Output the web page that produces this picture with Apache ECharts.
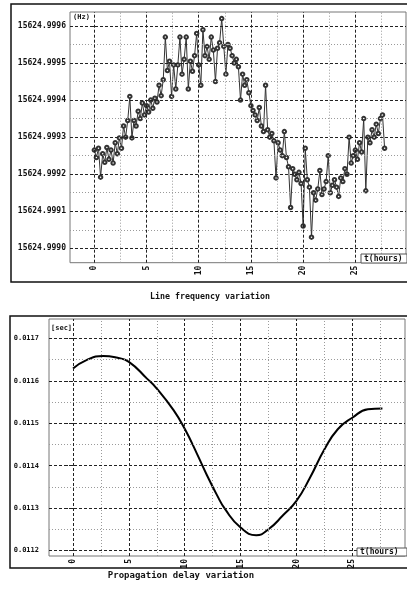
<!DOCTYPE html>
<html><head><meta charset="utf-8">
<script src="https://cdn.jsdelivr.net/npm/echarts@6/dist/echarts.min.js"></script>
<style>html,body{margin:0;padding:0;background:#fff}#c{width:407px;height:591px}</style>
</head><body><div id="c"></div>
<script>
// ---------- data ----------
const freqHours = [
 0,0.2,0.4,0.6,0.8, 1,1.2,1.4,1.6,1.8, 2,2.2,2.4,2.6,2.8, 3,3.2,3.4,3.6,3.8,
 4,4.2,4.4,4.6,4.8, 5,5.2,5.4,5.6,5.8, 6,6.2,6.4,6.6,6.8, 7,7.2,7.4,7.6,7.8,
 8,8.2,8.4,8.6,8.8, 9,9.2,9.4,9.6,9.8, 10,10.2,10.4,10.6,10.8, 11,11.2,11.4,11.6,11.8,
 12,12.2,12.4,12.6,12.8, 13,13.2,13.4,13.6,13.8, 14,14.2,14.4,14.6,14.8, 15,15.2,15.4,15.6,15.8,
 16,16.2,16.4,16.6,16.8, 17,17.2,17.4,17.6,17.8, 18,18.2,18.4,18.6,18.8, 19,19.2,19.4,19.6,19.8,
 20,20.2,20.4,20.6,20.8, 21,21.2,21.4,21.6,21.8, 22,22.2,22.4,22.6,22.8, 23,23.2,23.4,23.6,23.8,
 24,24.2,24.4,24.6,24.8, 25,25.2,25.4,25.6,25.8, 26,26.2,26.4,26.6,26.8, 27,27.2,27.4,27.6,27.8
];
const freqValues = [
 15624.999265,15624.999245,15624.999270,15624.999192,15624.999255,
 15624.999232,15624.999272,15624.999240,15624.999265,15624.999230,
 15624.999285,15624.999255,15624.999298,15624.999270,15624.999330,
 15624.999300,15624.999345,15624.999410,15624.999298,15624.999345,
 15624.999330,15624.999370,15624.999350,15624.999392,15624.999360,
 15624.999385,15624.999368,15624.999400,15624.999378,15624.999405,
 15624.999395,15624.999440,15624.999412,15624.999455,15624.999570,
 15624.999480,15624.999505,15624.999410,15624.999495,15624.999430,
 15624.999495,15624.999570,15624.999470,15624.999510,15624.999570,
 15624.999430,15624.999505,15624.999478,15624.999520,15624.999580,
 15624.999495,15624.999440,15624.999590,15624.999520,15624.999545,
 15624.999510,15624.999570,15624.999535,15624.999450,15624.999540,
 15624.999555,15624.999620,15624.999545,15624.999470,15624.999550,
 15624.999540,15624.999520,15624.999500,15624.999510,15624.999490,
 15624.999400,15624.999470,15624.999440,15624.999455,15624.999420,
 15624.999385,15624.999372,15624.999360,15624.999345,15624.999380,
 15624.999330,15624.999315,15624.999440,15624.999320,15624.999300,
 15624.999310,15624.999290,15624.999190,15624.999285,15624.999265,
 15624.999250,15624.999315,15624.999245,15624.999220,15624.999110,
 15624.999215,15624.999200,15624.999185,15624.999205,15624.999175,
 15624.999060,15624.999270,15624.999185,15624.999165,15624.999030,
 15624.999150,15624.999130,15624.999160,15624.999210,15624.999145,
 15624.999160,15624.999180,15624.999250,15624.999150,15624.999170,
 15624.999185,15624.999165,15624.999140,15624.999190,15624.999180,
 15624.999215,15624.999200,15624.999300,15624.999230,15624.999250,
 15624.999265,15624.999240,15624.999285,15624.999260,15624.999350,
 15624.999155,15624.999300,15624.999285,15624.999320,15624.999300,
 15624.999335,15624.999310,15624.999350,15624.999360,15624.999270
];
const delayHours = [0,1.2,2.7,3.9,5,6.6,7.5,9,10,11.1,12,12.9,13.6,15,16.4,17.5,18.8,20,21.2,22.5,23.7,25,26.4,27.7];
const delayValues = [0.011629,0.011649,0.011659,0.011655,0.011645,0.011606,0.011582,0.011531,0.011487,0.011428,0.011377,0.011330,0.011298,0.011254,0.011236,0.011250,0.011283,0.011317,0.011371,0.011438,0.011486,0.011513,0.011533,0.011535];

const xTickValues = [0,5,10,15,20,25];
const xMinorValues = [2.5,7.5,12.5,17.5,22.5,27.5];
const freqTickValues = [15624.9990,15624.9991,15624.9992,15624.9993,15624.9994,15624.9995,15624.9996];
const freqMinorValues = [15624.99905,15624.99915,15624.99925,15624.99935,15624.99945,15624.99955];
const delayTickValues = [0.0112,0.0113,0.0114,0.0115,0.0116,0.0117];
const delayMinorValues = [0.01125,0.01135,0.01145,0.01155,0.01165];

const titles = ['Line frequency variation','Propagation delay variation'];

// ---------- chart ----------
const MONO = 'DejaVu Sans Mono';
const majorStyle = {color:'#222', width:1, type:[3,2]};
const minorStyle = {color:'#9a9a9a', width:1, type:[1,2]};
const X1 = [-2.33, 29.85], X2 = [-2.15, 29.72];

function gridLines(xr, xs, xm, ys, ym){
  const d = [];
  xm.forEach(v=>d.push({xAxis:v, lineStyle:minorStyle}));
  ym.forEach(v=>d.push([{coord:[xr[0],v], lineStyle:minorStyle},{coord:[xr[1],v], lineStyle:minorStyle}]));
  xs.forEach(v=>d.push({xAxis:v, lineStyle:majorStyle}));
  ys.forEach(v=>d.push([{coord:[xr[0],v], lineStyle:majorStyle},{coord:[xr[1],v], lineStyle:majorStyle}]));
  return d;
}

const chart = echarts.init(document.getElementById('c'), null, {renderer:'canvas'});
const xAxisBase = (gi,r)=>({
  type:'value', gridIndex:gi, min:r[0], max:r[1],
  axisLine:{show:false}, splitLine:{show:false},
  axisTick:{show:false},
  axisLabel:{show:true, customValues:xTickValues, rotate:90, margin:3,
    fontFamily:MONO, fontSize:8, fontWeight:'bold', color:'#111', formatter:v=>String(v)}
});
chart.setOption({
  animation:false,
  backgroundColor:'#fff',
  grid:[
    {left:70, top:12, width:336, height:250.7, show:true, borderColor:'#777', borderWidth:1},
    {left:49, top:319, width:356, height:237, show:true, borderColor:'#777', borderWidth:1}
  ],
  xAxis:[ xAxisBase(0,X1), xAxisBase(1,X2) ],
  yAxis:[
    {type:'value', gridIndex:0, min:15624.9989611, max:15624.9996378,
     axisLine:{show:false}, splitLine:{show:false},
     axisTick:{show:true, customValues:freqTickValues, length:4, lineStyle:{color:'#222', type:[3,2]}},
     axisLabel:{customValues:freqTickValues, margin:4, fontFamily:MONO, fontSize:8, fontWeight:'bold', color:'#111',
       formatter:v=>v.toFixed(4)}},
    {type:'value', gridIndex:1, min:0.011187, max:0.011746,
     axisLine:{show:false}, splitLine:{show:false},
     axisTick:{show:true, customValues:delayTickValues, length:9, lineStyle:{color:'#222', type:[3,2]}},
     axisLabel:{customValues:delayTickValues, margin:10, fontFamily:MONO, fontSize:7, fontWeight:'bold', color:'#111',
       formatter:v=>v.toFixed(4)}}
  ],
  series:[
    {type:'line', xAxisIndex:0, yAxisIndex:0, data:[], z:1, silent:true,
     markLine:{symbol:'none', silent:true, label:{show:false}, animation:false,
       data:gridLines(X1,xTickValues,xMinorValues,freqTickValues,freqMinorValues)}},
    {type:'line', xAxisIndex:1, yAxisIndex:1, data:[], z:1, silent:true,
     markLine:{symbol:'none', silent:true, label:{show:false}, animation:false,
       data:gridLines(X2,xTickValues,xMinorValues,delayTickValues,delayMinorValues)}},
    {type:'line', xAxisIndex:0, yAxisIndex:0, z:3,
     data:freqHours.map((t,i)=>[t,freqValues[i]]),
     symbol:'emptyCircle', symbolSize:3.5, showSymbol:true,
     lineStyle:{color:'#333', width:1},
     itemStyle:{color:'#333', borderColor:'#333', borderWidth:0.8}},
    {type:'line', xAxisIndex:1, yAxisIndex:1, z:3,
     data:delayHours.map((t,i)=>[t,delayValues[i]]),
     smooth:0.5, showSymbol:false,
     lineStyle:{color:'#000', width:2}}
  ],
  graphic:[
    {type:'rect', shape:{x:11, y:4, width:400, height:278}, style:{fill:'none', stroke:'#111', lineWidth:1.5}, z:10},
    {type:'rect', shape:{x:10, y:316, width:400, height:252}, style:{fill:'none', stroke:'#111', lineWidth:1.5}, z:10},
    {type:'text', z:10, style:{x:73, y:17, text:'(Hz)', font:'bold 7px "DejaVu Sans Mono"', fill:'#111', textVerticalAlign:'middle'}},
    {type:'text', z:10, style:{x:51, y:328, text:'[sec]', font:'bold 7px "DejaVu Sans Mono"', fill:'#111', textVerticalAlign:'middle'}},
    {type:'rect', z:10, shape:{x:361, y:254, width:46, height:9}, style:{fill:'#fff', stroke:'#555', lineWidth:1}},
    {type:'text', z:11, style:{x:364, y:258.5, text:'t(hours)', font:'bold 8px "DejaVu Sans Mono"', fill:'#111', textVerticalAlign:'middle'}},
    {type:'rect', z:10, shape:{x:357, y:548, width:50, height:8}, style:{fill:'#fff', stroke:'#555', lineWidth:1}},
    {type:'text', z:11, style:{x:360, y:552, text:'t(hours)', font:'bold 8px "DejaVu Sans Mono"', fill:'#111', textVerticalAlign:'middle'}},
    {type:'text', z:10, style:{x:210, y:297, text:titles[0], font:'bold 8.3px "DejaVu Sans Mono"', fill:'#111', textAlign:'center', textVerticalAlign:'middle'}},
    {type:'text', z:10, style:{x:181, y:576, text:titles[1], font:'bold 9px "DejaVu Sans Mono"', fill:'#111', textAlign:'center', textVerticalAlign:'middle'}}
  ]
});
</script>
</body></html>
